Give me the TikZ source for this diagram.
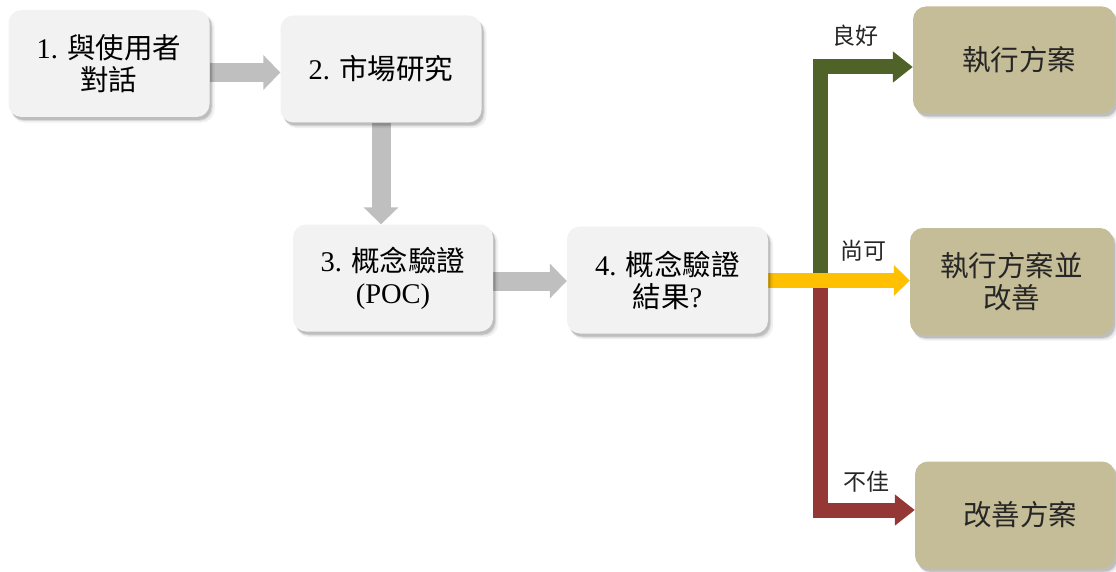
\documentclass[tikz,border=0pt]{standalone}
\usepackage{fontspec}
\setmainfont{Liberation Serif}
\newfontfamily\cjk{Noto Sans CJK TC}
\usetikzlibrary{arrows.meta,shadows,backgrounds}
\newcommand\zhtxt[1]{{\cjk #1}}
\definecolor{boxgray}{HTML}{F2F2F2}
\definecolor{boxtan}{HTML}{C4BD97}
\definecolor{arrgray}{HTML}{BFBFBF}
\definecolor{arrgreen}{HTML}{4F6228}
\definecolor{arryellow}{HTML}{FFC000}
\definecolor{arrred}{HTML}{953735}
\definecolor{txtdark}{HTML}{262626}
\begin{document}
\begin{tikzpicture}[x=1pt,y=-1pt,
  softshadow/.style={
    general shadow={shadow xshift=4pt,shadow yshift=-5pt,fill=black,opacity=0.06,shadow scale=1.01},
    general shadow={shadow xshift=3pt,shadow yshift=-4pt,fill=black,opacity=0.10},
    general shadow={shadow xshift=2pt,shadow yshift=-3pt,fill=black,opacity=0.12}},
  stepbox/.style={rounded corners=13pt,minimum width=201pt,minimum height=107pt,
    align=center,inner sep=2pt,font=\fontsize{28.5}{32}\selectfont,softshadow},
  graybox/.style={stepbox,fill=boxgray,text=black},
  tanbox/.style={stepbox,fill=boxtan,text=txtdark},
  flowgray/.style={draw=arrgray,line width=19pt,-{Triangle[length=17pt,width=34pt]}},
  branch/.style={line width=15pt,line join=miter,-{Triangle[length=20pt,width=30pt]}},
  lbl/.style={font=\fontsize{23}{26}\selectfont,text=txtdark,inner sep=0pt}
]
\useasboundingbox (0,0) rectangle (1116,572);

\node[graybox] (b1) at (109,63.5) {1. \zhtxt{與使用者}\\\zhtxt{對話}};
\node[graybox] (b2) at (381,69) {2. \zhtxt{市場研究}};
\node[graybox,minimum width=200pt] (b3) at (393,278) {3. \zhtxt{概念驗證}\\(POC)};
\node[graybox] (b4) at (667.5,280) {4. \zhtxt{概念驗證}\\\zhtxt{結果}?};

\node[tanbox,minimum width=202pt] (t1) at (1014,60) {\hspace*{10pt}\zhtxt{執行方案}};
\node[tanbox,minimum width=203pt] (t2) at (1011.5,281.5) {\zhtxt{執行方案並}\\\zhtxt{改善}};
\node[tanbox,minimum width=200pt] (t3) at (1015,515) {\hspace*{10pt}\zhtxt{改善方案}};

\node[lbl] (l1) at (855,36) {\zhtxt{良好}};
\node[lbl] (l2) at (863,251) {\zhtxt{尚可}};
\node[lbl] (l3) at (866,482) {\zhtxt{不佳}};

\coordinate (j) at (820.5,280.5);

\begin{scope}[on background layer]
\draw[flowgray] ([yshift=-9pt]b1.east) -- ([yshift=-9pt]b1.east -| b2.west);
\draw[flowgray] (b2.south) -- (b2.south |- b3.north);
\draw[flowgray] ([yshift=-3pt]b3.east) -- ([yshift=-3pt]b3.east -| b4.west);
\draw[branch,draw=arrgreen] (j) |- ([yshift=-7pt]t1.west);
\draw[branch,draw=arrred] (j) |- ([yshift=5pt]t3.west);
\draw[branch,draw=arryellow,-{Triangle[length=16pt,width=30pt]}] (b4.east |- j) -- (j -| t2.west);
\end{scope}
\end{tikzpicture}
\end{document}
